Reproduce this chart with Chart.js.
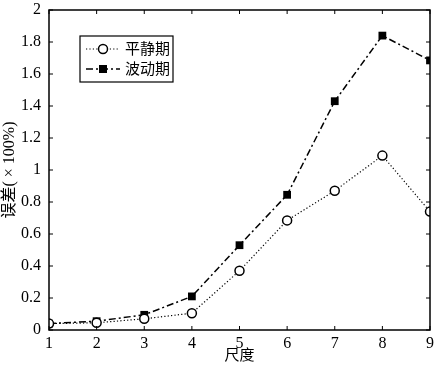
<!DOCTYPE html>
<html>
<head>
<meta charset="utf-8">
<script src="https://cdn.jsdelivr.net/npm/chart.js@4.4.1/dist/chart.umd.min.js"></script>
<style>
  html, body { margin: 0; padding: 0; background: #fff; }
  #wrap { width: 436px; height: 365px; }
</style>
</head>
<body>
<div id="wrap"><canvas id="chart" width="436" height="365"></canvas></div>
<script>
const scales = [1, 2, 3, 4, 5, 6, 7, 8, 9];
const calmErr = [0.04, 0.045, 0.07, 0.105, 0.37, 0.685, 0.87, 1.09, 0.74];   // 平静期
const volErr = [0.04, 0.055, 0.095, 0.21, 0.53, 0.845, 1.43, 1.84, 1.685];   // 波动期
const seriesNames = ['平静期', '波动期'];
const yTicks = [0, 0.2, 0.4, 0.6, 0.8, 1, 1.2, 1.4, 1.6, 1.8, 2];

const numFont = 'Liberation Serif, Times New Roman, DejaVu Serif, serif';
const cjkFont = 'Liberation Serif, Noto Sans CJK SC, serif';

// frame around the plot with inward ticks on all four sides
const framePlugin = {
    id: 'frame',
    afterDatasetsDraw(chart) {
        const { ctx, chartArea: a, scales: s } = chart;
        ctx.save();
        ctx.strokeStyle = '#000';
        ctx.lineWidth = 1.5;
        ctx.strokeRect(a.left, a.top, a.right - a.left, a.bottom - a.top);
        ctx.lineWidth = 1;
        ctx.beginPath();
        scales.forEach(v => {
            const x = s.x.getPixelForValue(v);
            ctx.moveTo(x, a.bottom); ctx.lineTo(x, a.bottom - 4);
            ctx.moveTo(x, a.top); ctx.lineTo(x, a.top + 4);
        });
        yTicks.forEach(v => {
            const y = s.y.getPixelForValue(v);
            ctx.moveTo(a.left, y); ctx.lineTo(a.left + 4, y);
            ctx.moveTo(a.right, y); ctx.lineTo(a.right - 4, y);
        });
        ctx.stroke();
        ctx.restore();
    }
};

// boxed legend inside the plot, upper left
const boxLegend = {
    id: 'boxLegend',
    afterDraw(chart) {
        const { ctx } = chart;
        const bx = 80, by = 36, bw = 93, bh = 46;
        ctx.save();
        ctx.fillStyle = '#fff';
        ctx.fillRect(bx, by, bw, bh);
        ctx.strokeStyle = '#000';
        ctx.lineWidth = 1.2;
        ctx.strokeRect(bx, by, bw, bh);
        chart.data.datasets.forEach((ds, i) => {
            const y = by + 13 + i * 20;
            ctx.strokeStyle = '#000';
            ctx.lineWidth = ds.borderWidth;
            ctx.setLineDash(ds.borderDash);
            ctx.beginPath();
            ctx.moveTo(bx + 6, y); ctx.lineTo(bx + 40, y);
            ctx.stroke();
            ctx.setLineDash([]);
            const mx = bx + 23;
            if (ds.pointStyle === 'circle') {
                ctx.fillStyle = '#fff';
                ctx.lineWidth = 1.5;
                ctx.beginPath();
                ctx.arc(mx, y, 4.5, 0, Math.PI * 2);
                ctx.fill(); ctx.stroke();
            } else {
                ctx.fillStyle = '#000';
                ctx.fillRect(mx - 4, y - 4, 8, 8);
            }
            ctx.fillStyle = '#000';
            ctx.font = '15px ' + cjkFont;
            ctx.textBaseline = 'middle';
            ctx.fillText(ds.label, bx + 45, y + 1);
        });
        ctx.restore();
    }
};

new Chart(document.getElementById('chart'), {
    type: 'line',
    data: {
        datasets: [
            {
                label: seriesNames[0],
                data: scales.map((x, i) => ({ x: x, y: calmErr[i] })),
                borderColor: '#000',
                borderWidth: 1.2,
                borderDash: [1.2, 2.2],
                pointStyle: 'circle',
                pointRadius: 4.5,
                pointBorderWidth: 1.5,
                pointBackgroundColor: '#fff',
                pointBorderColor: '#000',
                tension: 0
            },
            {
                label: seriesNames[1],
                data: scales.map((x, i) => ({ x: x, y: volErr[i] })),
                borderColor: '#000',
                borderWidth: 1.5,
                borderDash: [7, 3, 2, 3],
                pointStyle: 'rect',
                pointRadius: 5.5,
                pointBorderWidth: 0,
                pointBackgroundColor: '#000',
                pointBorderColor: '#000',
                tension: 0
            }
        ]
    },
    options: {
        responsive: false,
        animation: false,
        layout: { padding: { left: 0, right: 5, top: 10, bottom: 0 } },
        plugins: {
            legend: { display: false },
            tooltip: { enabled: false }
        },
        scales: {
            x: {
                type: 'linear',
                min: 1,
                max: 9,
                afterBuildTicks: s => { s.ticks = scales.map(v => ({ value: v })); },
                afterFit: s => {
                    s.height = 35;
                    s.paddingLeft = 0;
                    s.paddingRight = 0;
                },
                grid: { display: false, drawTicks: false },
                border: { display: false },
                ticks: {
                    color: '#000',
                    padding: 4,
                    font: { family: numFont, size: 16 }
                },
                title: {
                    display: true,
                    text: '尺度',
                    color: '#000',
                    padding: { top: -6, bottom: 0 },
                    font: { family: cjkFont, size: 15 }
                }
            },
            y: {
                min: 0,
                max: 2,
                afterBuildTicks: s => { s.ticks = yTicks.map(v => ({ value: v })); },
                afterFit: s => {
                    s.width = 49;
                    s.paddingTop = 0;
                    s.paddingBottom = 0;
                },
                grid: { display: false, drawTicks: false },
                border: { display: false },
                ticks: {
                    color: '#000',
                    padding: 8,
                    font: { family: numFont, size: 16 },
                    callback: v => String(v)
                },
                title: {
                    display: true,
                    text: '误差( × 100%)',
                    color: '#000',
                    padding: { top: 0, bottom: 0 },
                    font: { family: cjkFont, size: 16 }
                }
            }
        }
    },
    plugins: [framePlugin, boxLegend]
});
</script>
</body>
</html>
